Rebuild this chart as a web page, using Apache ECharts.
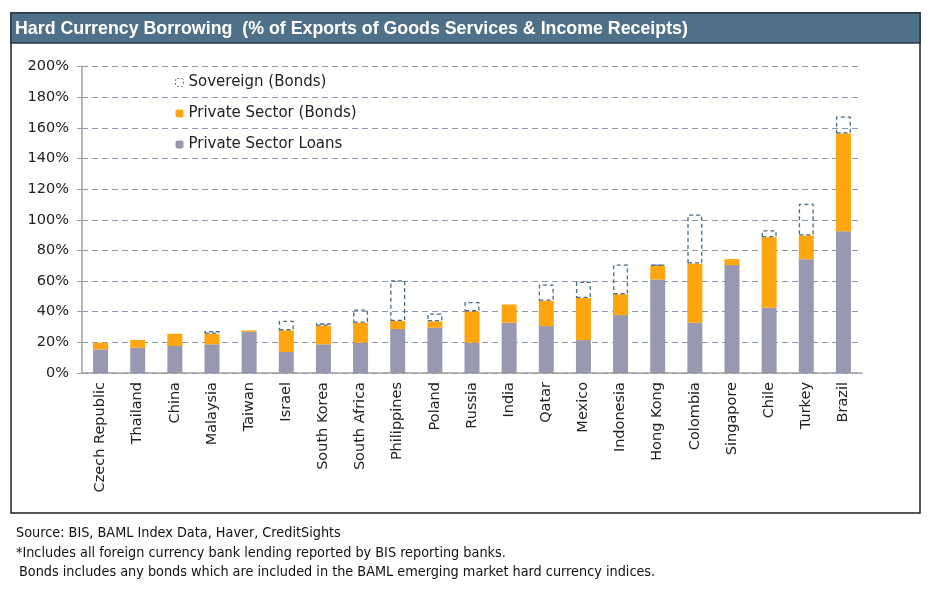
<!DOCTYPE html>
<html>
<head>
<meta charset="utf-8">
<script src="https://cdn.jsdelivr.net/npm/echarts@6/dist/echarts.min.js"></script>
<style>
html,body{margin:0;padding:0;background:#fff;}
#chart{width:930px;height:589px;}
</style>
</head>
<body>
<div id="chart"></div>
<script>
const categories = ['Czech Republic','Thailand','China','Malaysia','Taiwan','Israel','South Korea','South Africa','Philippines','Poland','Russia','India','Qatar','Mexico','Indonesia','Hong Kong','Colombia','Singapore','Chile','Turkey','Brazil'];
const privateLoans = [15.4,16.5,17.6,18.7,26.9,13.7,18.7,19.8,28.7,29.5,19.8,32.8,30.6,21.5,37.8,61.0,32.8,70.4,42.6,74.3,92.5];
const privateBonds = [4.4,5.0,8.0,6.9,0.9,14.1,12.1,13.0,5.2,4.2,20.4,11.9,16.5,27.4,13.5,8.9,38.6,3.9,46.0,15.4,63.7];
const sovereignBonds = [null,null,null,1.8,null,6.3,1.6,8.7,26.7,5.2,6.1,null,10.7,10.6,19.5,0.9,32.0,null,4.6,20.8,11.2];
const yTicks = [0,20,40,60,80,100,120,140,160,180,200];

const chart = echarts.init(document.getElementById('chart'), null, {renderer:'canvas'});
const font = '"DejaVu Sans", sans-serif';
const footFont = '14.3px "DejaVu Sans Condensed", "Liberation Sans Narrow", sans-serif';
const sovStyle = {color:'rgba(255,255,255,0)', borderColor:'#4a6a82', borderType:[4,3], borderWidth:1.3};
chart.setOption({
  animation:false,
  textStyle:{fontFamily:font},
  graphic:[
    {type:'rect', shape:{x:11,y:13,width:909,height:500}, style:{fill:'none', stroke:'#222', lineWidth:1.5}, z:0},
    {type:'rect', shape:{x:11,y:13,width:909,height:30}, style:{fill:'#4f7089', stroke:'#263848', lineWidth:1.5}, z:1},
    {type:'text', left:15, top:20, style:{text:'Hard Currency Borrowing  (% of Exports of Goods Services & Income Receipts)', fill:'#fff', font:'bold 17.8px "Liberation Sans", Arial, sans-serif'}, z:2},
    {type:'text', left:16, top:526, style:{text:'Source: BIS, BAML Index Data, Haver, CreditSights', fill:'#111', font:footFont}},
    {type:'text', left:16, top:546, style:{text:'*Includes all foreign currency bank lending reported by BIS reporting banks.', fill:'#111', font:footFont}},
    {type:'text', left:19, top:565, style:{text:'Bonds includes any bonds which are included in the BAML emerging market hard currency indices.', fill:'#111', font:footFont}}
  ],
  legend:{
    orient:'vertical', left:170, top:70, itemWidth:8, itemHeight:8, itemGap:16,
    textStyle:{fontSize:15, color:'#222', fontFamily:font},
    data:[
      {name:'Sovereign (Bonds)', itemStyle:{color:'#fff', borderColor:'#4a6a82', borderType:[2,2], borderWidth:1}},
      {name:'Private Sector (Bonds)'},
      {name:'Private Sector Loans'}
    ]
  },
  grid:{left:82, right:68, top:66.5, bottom:216, containLabel:false},
  xAxis:{
    type:'category', data:categories,
    axisLine:{lineStyle:{color:'#a0a0a0', width:1.5}},
    axisTick:{show:false},
    axisLabel:{rotate:90, fontSize:14.5, color:'#222', margin:9, interval:0, fontFamily:font}
  },
  yAxis:{
    type:'value', min:0, max:200, interval:20,
    axisLine:{show:true, lineStyle:{color:'#a0a0a0', width:1.5}},
    axisTick:{show:true, length:5, lineStyle:{color:'#a0a0a0'}},
    axisLabel:{fontSize:14.5, color:'#222', margin:13, formatter:v=>v+'%', fontFamily:font},
    splitLine:{lineStyle:{color:'#8a98ad', type:[6,4], width:1}}
  },
  series:[
    {name:'Private Sector Loans', type:'bar', stack:'t', data:privateLoans, barWidth:15, itemStyle:{color:'#9899b0'}},
    {name:'Private Sector (Bonds)', type:'bar', stack:'t', data:privateBonds, barWidth:15, itemStyle:{color:'#fea510'}},
    {name:'Sovereign (Bonds)', type:'bar', stack:'t', data:sovereignBonds, barWidth:15, itemStyle:sovStyle}
  ]
});
</script>
</body>
</html>
